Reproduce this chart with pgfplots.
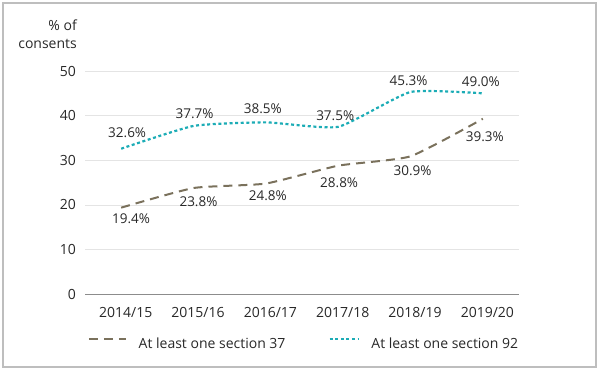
\documentclass[border=0pt]{standalone}
\usepackage{fontspec}
\setmainfont{Open Sans}
\usepackage{pgfplots}
\pgfplotsset{compat=1.18}
\usepackage{pgfplotstable}
\definecolor{tealc}{RGB}{28,172,182}
\definecolor{brownc}{RGB}{122,113,92}
\definecolor{txt}{RGB}{40,40,40}
\definecolor{gridc}{RGB}{228,228,228}
\definecolor{axisc}{RGB}{140,140,140}
\definecolor{framec}{RGB}{190,190,190}
\newcommand\fs{\fontsize{14bp}{17bp}\selectfont}
\newcommand\fl{\fontsize{13.5bp}{16bp}\selectfont}

\pgfplotsset{
  legA/.style={legend image code/.code={\draw[##1] (0bp,5bp) -- (37bp,5bp);}},
  legB/.style={legend image code/.code={\draw[##1] (0bp,5bp) -- (29bp,5bp);}},
  lbl/.style={
    nodes near coords={\pgfplotspointmeta\%},
    point meta=explicit symbolic,
    visualization depends on={\thisrow{dy} \as \dy},
    visualization depends on={\thisrow{dx} \as \dx},
    nodes near coords style={anchor=center, font=\fl, text=txt, inner sep=0pt, yshift=\dy, xshift=\dx, solid}},
}

\pgfplotstableread{
x y lab dy dx
0 19.4 19.4 -11 10
1 23.8 23.8 -14 5
2 24.8 24.8 -12 2
3 28.8 28.8 -17 1
4 30.9 30.9 -14 2
5 39.3 39.3 -18 2
}\secA

\pgfplotstableread{
x y lab dy dx
0 32.6 32.6 16 6
1 37.7 37.7 12 1
2 38.5 38.5 14 -3
3 37.5 37.5 11 -3
4 45.3 45.3 11 -2
5 45.0 49.0 12 -2
}\secB

\begin{document}
\begin{tikzpicture}[x=1bp,y=1bp]
\useasboundingbox (0,0) rectangle (600,372);
\draw[framec, line width=1.2bp] (3,5) rectangle (596,369);
\begin{axis}[
  at={(85bp,77.7bp)}, anchor=south west,
  scale only axis, width=434bp, height=223.3bp,
  xmin=-0.5, xmax=5.5, ymin=0, ymax=50,
  xtick={0,...,5},
  xticklabels={2014/15,2015/16,2016/17,2017/18,2018/19,2019/20},
  ytick={0,10,20,30,40,50},
  axis x line=bottom, axis y line=left,
  x axis line style={-, axisc, line width=1bp},
  y axis line style={draw=none},
  major tick length=0pt,
  ymajorgrids, grid style={gridc, line width=0.9bp},
  /pgf/number format/assume math mode=true,
  tick label style={font=\fs, text=txt},
  xticklabel style={anchor=base, inner sep=0pt, xshift=4.5bp},
  xticklabel shift=23.5bp,
  yticklabel style={anchor=east, inner sep=0pt},
  yticklabel shift=9bp,
  clip=false,
  legend columns=2,
  legend style={draw=none, fill=none, inner sep=0pt, outer sep=0pt,
    at={(axis description cs:0.0069,-0.2226)}, anchor=west,
    font=\fs, text=txt,
    nodes={inner sep=0pt, text=txt},
    /tikz/every odd column/.append style={column sep=11.7bp},
    /tikz/every even column/.append style={column sep=43bp}},
  legend cell align=left,
]
\addplot[brownc, line width=2bp, dash pattern=on 9bp off 6bp, smooth, tension=0.3, lbl, legA]
  table[x=x, y=y, meta=lab] {\secA};
\addlegendentry{At least one section 37}
\addplot[tealc, line width=2.2bp, dash pattern=on 3bp off 2.6bp, smooth, tension=0.3, lbl, legB]
  table[x=x, y=y, meta=lab] {\secB};
\addlegendentry{At least one section 92}
\end{axis}
\node[anchor=base east, inner sep=0pt, font=\fs, text=txt] at (77,342) {\% of};
\node[anchor=base east, inner sep=0pt, font=\fs, text=txt] at (77,324) {consents};
\end{tikzpicture}
\end{document}
